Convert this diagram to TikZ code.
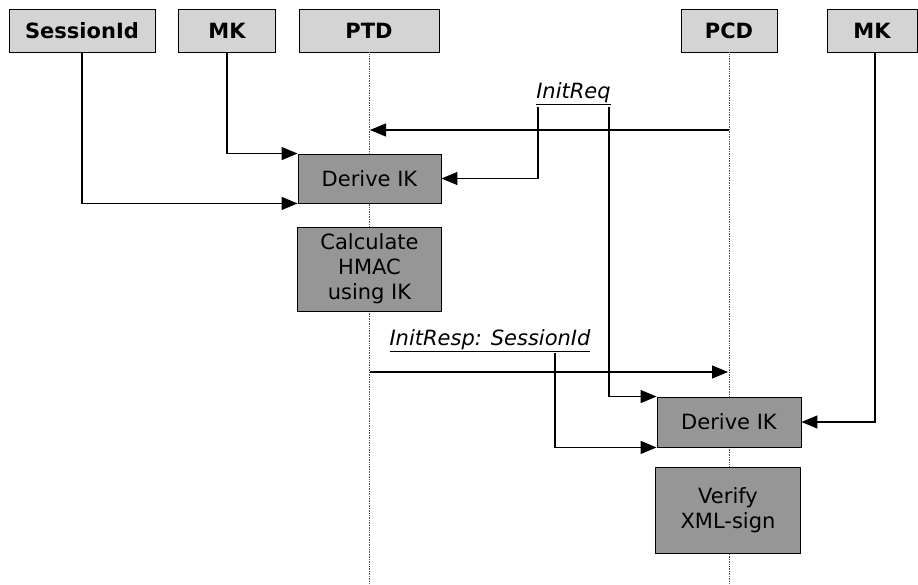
\documentclass[tikz,border=0pt]{standalone}
\usepackage{fontspec}
\setmainfont{DejaVu Sans}
\usetikzlibrary{arrows.meta}
\definecolor{hdrfill}{RGB}{212,212,212}
\definecolor{procfill}{RGB}{150,150,150}
\definecolor{lifegray}{RGB}{80,80,80}
\tikzset{
  header/.style={draw=black, line width=0.9, fill=hdrfill, inner sep=0,
    minimum height=43, font=\fontsize{21}{24}\selectfont\bfseries},
  procbox/.style={draw=black, line width=0.9, fill=procfill, inner sep=0,
    align=center, font=\fontsize{21}{25}\selectfont},
  lifeline/.style={draw=lifegray, line width=0.7, densely dotted},
  msg/.style={draw=black, line width=1.2,
    -{Triangle[length=16,width=13]}},
  msglabel/.style={inner sep=1, font=\fontsize{21}{24}\selectfont\itshape},
}
\begin{document}
\begin{tikzpicture}[x=1pt,y=-1pt]
\useasboundingbox (0,0) rectangle (918,585);
\fill[white] (0,0) rectangle (918,585);

% participants
\node[header, minimum width=146] (sid) at (82,30.5) {SessionId};
\node[header, minimum width=97]  (mkA) at (227,30.5) {MK};
\node[header, minimum width=140] (ptd) at (369,30.5) {PTD};
\node[header, minimum width=96]  (pcd) at (729,30.5) {PCD};
\node[header, minimum width=90]  (mkB) at (872,30.5) {MK};

% lifelines of the two devices
\coordinate (ptdEnd) at (369,585);
\coordinate (pcdEnd) at (729,585);
\draw[lifeline] (ptd.south) -- (ptdEnd);
\draw[lifeline] (pcd.south) -- (pcdEnd);

% processing steps
\node[procbox, minimum width=143, minimum height=49] (dkA) at (369.5,178.5) {Derive IK};
\node[procbox, minimum width=144, minimum height=84] (hmac) at (369.5,269) {Calculate\\HMAC\\using IK};
\node[procbox, minimum width=144, minimum height=50] (dkB) at (729,422) {Derive IK};
\node[procbox, minimum width=145, minimum height=86] (verify) at (728,510) {Verify\\XML-sign};

% message labels
\node[msglabel] (lreq) at (573.5,94) {\underline{InitReq}};
\node[msglabel] (lresp) at (490,341) {\underline{InitResp: SessionId}};

% message anchor points on the lifelines
\coordinate (reqFrom) at (729,130);
\coordinate (reqTo)   at (370,130);
\coordinate (respFrom) at (370,372);
\coordinate (respTo)   at (728,372);

% taps from the labels
\coordinate (reqTapA) at (538,107);
\coordinate (reqTapB) at (609,107);
\coordinate (respTap) at (555,353);
\coordinate (mkBTop)  at (875,52);

% messages
\draw[msg] (reqFrom) -- (reqTo);
\draw[msg] (respFrom) -- (respTo);

% inputs to the key derivation at the PTD
\draw[msg] (mkA.south) |- (dkA.north west);
\draw[msg] (sid.south) |- (dkA.south west);
\draw[msg] (reqTapA) |- (dkA.east);

% inputs to the key derivation at the PCD
\draw[msg] (reqTapB) |- (dkB.north west);
\draw[msg] (respTap) |- (dkB.south west);
\draw[msg] (mkBTop) |- (dkB.east);
\end{tikzpicture}
\end{document}
